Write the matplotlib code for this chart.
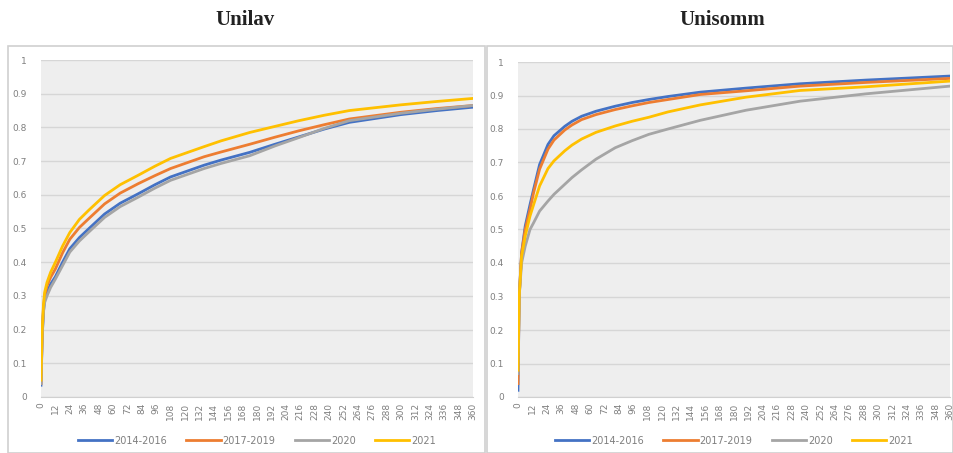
import matplotlib.pyplot as plt
from matplotlib.patches import Rectangle
from matplotlib.ticker import FuncFormatter, MultipleLocator

lav_days = [0, 1, 2, 3, 5, 8, 12, 18, 24, 32, 40, 53, 66, 81, 95, 108, 136, 150, 174, 195,
            215, 236, 257, 300, 330, 360]
lav_2014_2016 = [0.035, 0.18, 0.25, 0.29, 0.31, 0.335, 0.357, 0.40, 0.44, 0.473, 0.50, 0.543,
                 0.575, 0.603, 0.63, 0.653, 0.688, 0.703, 0.726, 0.75, 0.772, 0.795, 0.815,
                 0.838, 0.85, 0.86]
lav_2017_2019 = [0.04, 0.19, 0.26, 0.30, 0.33, 0.355, 0.38, 0.428, 0.468, 0.503, 0.53, 0.573,
                 0.605, 0.633, 0.657, 0.678, 0.713, 0.727, 0.75, 0.771, 0.79, 0.808, 0.825,
                 0.845, 0.856, 0.865]
lav_2020 = [0.04, 0.18, 0.25, 0.28, 0.30, 0.325, 0.35, 0.39, 0.43, 0.463, 0.49, 0.533,
            0.565, 0.593, 0.62, 0.643, 0.678, 0.693, 0.716, 0.745, 0.77, 0.797, 0.82,
            0.842, 0.854, 0.865]
lav_2021 = [0.05, 0.20, 0.27, 0.31, 0.34, 0.37, 0.40, 0.448, 0.488, 0.527, 0.555, 0.598,
            0.63, 0.658, 0.685, 0.708, 0.743, 0.76, 0.785, 0.803, 0.82, 0.836, 0.85,
            0.867, 0.877, 0.886]

somm_days = [0, 1, 3, 6, 10, 13, 18, 25, 30, 39, 45, 53, 65, 81, 95, 109, 125, 152, 190,
             235, 290, 360]
somm_2014_2016 = [0.02, 0.30, 0.43, 0.51, 0.574, 0.62, 0.694, 0.754, 0.78, 0.808, 0.823,
                  0.838, 0.853, 0.868, 0.879, 0.888, 0.897, 0.91, 0.922, 0.935, 0.946, 0.958]
somm_2017_2019 = [0.04, 0.30, 0.43, 0.50, 0.56, 0.61, 0.68, 0.74, 0.767, 0.797, 0.812,
                  0.828, 0.843, 0.858, 0.869, 0.879, 0.888, 0.903, 0.914, 0.928, 0.939, 0.951]
somm_2020 = [0.07, 0.30, 0.40, 0.45, 0.50, 0.52, 0.555, 0.585, 0.605, 0.635, 0.655,
             0.678, 0.71, 0.744, 0.765, 0.784, 0.80, 0.826, 0.856, 0.883, 0.905, 0.928]
somm_2021 = [0.08, 0.30, 0.42, 0.48, 0.54, 0.574, 0.63, 0.682, 0.705, 0.735, 0.752,
             0.77, 0.79, 0.809, 0.823, 0.835, 0.851, 0.872, 0.895, 0.915, 0.926, 0.943]

series_names = ['2014-2016', '2017-2019', '2020', '2021']
colors = ['#4472C4', '#ED7D31', '#A5A5A5', '#FFC000']
x_ticks = list(range(0, 361, 12))

W, H = 954, 453
fig = plt.figure(figsize=(W / 100, H / 100), dpi=100)

# panel frames, kept behind the axes
for x0, x1 in [(8, 485), (487, 953)]:
    fig.add_artist(Rectangle((x0 / W, 0), (x1 - x0) / W, (H - 46) / H, transform=fig.transFigure,
                             facecolor='white', edgecolor='#d0d0d0', linewidth=1.2, zorder=-10))

fig.text(245 / W, 1 - 20 / H, 'Unilav', ha='center', va='center', fontsize=15,
         fontweight='bold', family='Liberation Serif', color='#222222')
fig.text(722 / W, 1 - 20 / H, 'Unisomm', ha='center', va='center', fontsize=15,
         fontweight='bold', family='Liberation Serif', color='#222222')

panels = [
    ((41, 60, 473, 397), lav_days, [lav_2014_2016, lav_2017_2019, lav_2020, lav_2021]),
    ((518, 62, 950, 397), somm_days, [somm_2014_2016, somm_2017_2019, somm_2020, somm_2021]),
]


def fmt_y(v, pos):
    if abs(v) < 1e-9:
        return '0'
    if abs(v - 1) < 1e-9:
        return '1'
    return f'{v:.1f}'


for (l, t, r, b), days, series in panels:
    ax = fig.add_axes([l / W, 1 - b / H, (r - l) / W, (b - t) / H])
    ax.set_facecolor('#eeeeee')
    for name, vals, c in zip(series_names, series, colors):
        ax.plot(days, vals, color=c, linewidth=2.0, label=name, solid_joinstyle='round')
    ax.set_xlim(0, 360)
    ax.set_ylim(0, 1)
    ax.yaxis.set_major_locator(MultipleLocator(0.1))
    ax.yaxis.set_major_formatter(FuncFormatter(fmt_y))
    ax.set_xticks(x_ticks)
    ax.set_xticklabels([str(x) for x in x_ticks], rotation=90)
    ax.grid(axis='y', color='#d6d6d6', linewidth=1.0)
    ax.set_axisbelow(True)
    for s in ['top', 'right', 'left']:
        ax.spines[s].set_visible(False)
    ax.spines['bottom'].set_color('#d0d0d0')
    ax.tick_params(axis='both', length=0, labelsize=6.5, colors='#7f7f7f')
    ax.tick_params(axis='y', pad=10)
    ax.tick_params(axis='x', pad=4)
    leg = ax.legend(loc='upper center', bbox_to_anchor=(0.5, -0.095), ncol=4, frameon=False,
                    fontsize=7, handlelength=3.5, handletextpad=0.2, columnspacing=2.0,
                    borderpad=0.2)
    for txt in leg.get_texts():
        txt.set_color('#7f7f7f')

fig.savefig('out.png', dpi=100)
